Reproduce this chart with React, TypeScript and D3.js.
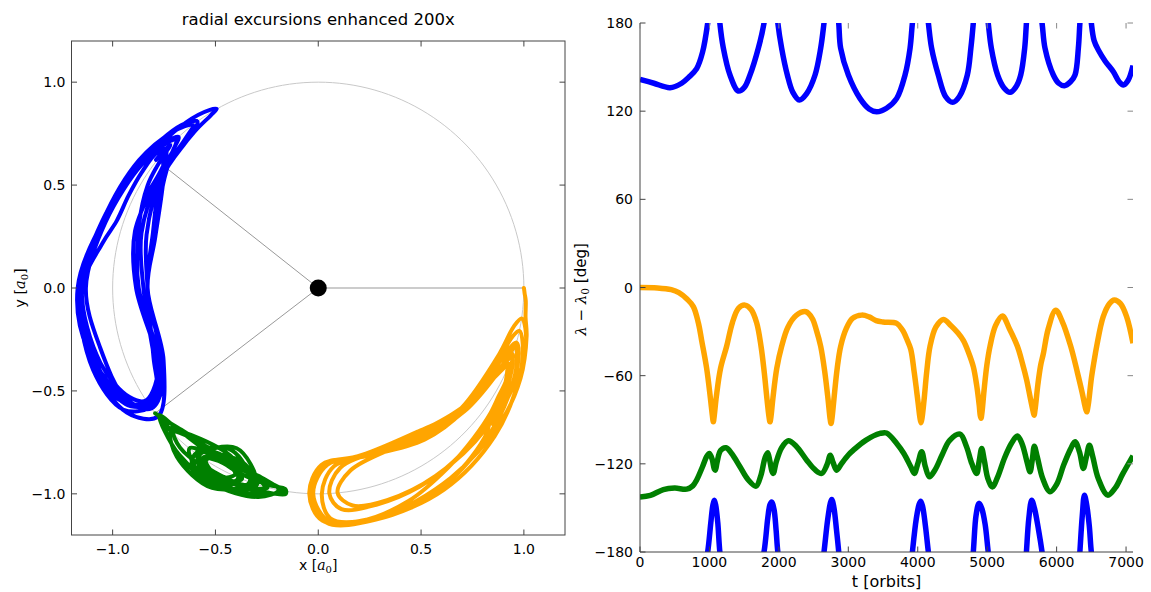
import React from "react";
import * as d3 from "d3";

// [time in orbits, λ − λ0 in degrees, orbital radius in a0 with excursions ×200]
const blueTrack: [number, number, number][] = [
  [0, 141.7, 1.005], [200, 139, 1.005], [432, 136, 1.0], [600, 139, 0.99], [700, 143, 0.982],
  [816, 149, 0.968], [900, 160, 0.926], [975, 180, 0.873], [1020, 200, 0.838], [1050, 212, 0.884],
  [1070, 215.3, 1.0], [1090, 212, 1.116], [1120, 200, 1.165], [1150, 180, 1.16], [1200, 163, 1.09],
  [1296, 144.6, 1.05], [1416, 133.7, 1.0], [1500, 136, 0.975], [1584, 144.6, 0.95], [1704, 162.8, 0.933],
  [1786, 180, 0.886], [1840, 203, 0.855], [1870, 212, 0.924], [1896, 214.1, 1.0], [1930, 209, 1.113],
  [1960, 195, 1.165], [1985, 180, 1.15], [2040, 162.8, 1.098], [2122, 144.6, 1.07], [2200, 133, 1.037],
  [2295, 127.6, 1.0], [2400, 132, 0.97], [2521, 144.6, 0.943], [2602, 162.8, 0.9], [2650, 180, 0.85],
  [2700, 201, 0.86], [2740, 213, 0.91], [2761, 215.8, 1.0], [2790, 211, 1.076], [2830, 195, 1.16],
  [2862, 180, 1.17], [2890, 162.8, 1.096], [3001, 144.6, 1.047], [3168, 128.7, 1.03], [3300, 121.5, 1.014],
  [3409, 119.6, 1.0], [3550, 122, 0.988], [3697, 128.7, 0.968], [3817, 144.6, 0.932], [3889, 162.8, 0.874],
  [3923, 180, 0.83], [3980, 203, 0.87], [4020, 212.5, 0.93], [4043, 214.6, 1.0], [4070, 211, 1.094],
  [4110, 198, 1.14], [4153, 180, 1.148], [4200, 162.8, 1.094], [4296, 144.6, 1.062], [4400, 130, 1.034],
  [4503, 126, 1.0], [4600, 130, 0.967], [4714, 144.6, 0.93], [4765, 162.8, 0.844], [4800, 180, 0.83],
  [4840, 205, 0.85], [4882, 213.1, 1.0], [4920, 210, 1.06], [4970, 199, 1.12], [5015, 180, 1.15],
  [5060, 162.8, 1.1], [5150, 144.6, 1.056], [5240, 136, 1.025], [5329, 132.8, 1.0], [5420, 137, 0.97],
  [5483, 144.6, 0.918], [5540, 162.8, 0.836], [5565, 180, 0.83], [5600, 203, 0.83], [5641, 215.3, 1.0],
  [5680, 210, 1.078], [5740, 195, 1.1], [5790, 180, 1.13], [5833, 162.8, 1.083], [5953, 144.6, 1.046],
  [6030, 139, 1.017], [6112, 137.3, 1.0], [6200, 140, 0.982], [6265, 144.6, 0.923], [6313, 162.8, 0.83],
  [6335, 180, 0.83], [6370, 205, 0.83], [6400, 218.7, 1.0], [6430, 213, 1.11], [6470, 198, 1.16],
  [6500, 180, 1.15], [6540, 168, 1.07], [6601, 161.6, 1.033], [6700, 154, 1.026], [6817, 146.8, 1.026],
  [6900, 140, 1.024], [6961, 137.8, 1.0], [7030, 141, 0.964], [7100, 151, 0.95],
];

const orangeTrack: [number, number, number][] = [
  [0, 0, 1.0], [250, -0.3, 1.001], [450, -1.5, 1.004], [560, -3.5, 1.011], [680, -8, 1.018],
  [768, -13, 1.04], [840, -24, 1.077], [888, -36, 1.1], [960, -55, 1.125], [1013, -75, 1.155],
  [1042, -87, 1.14], [1056, -91.4, 1.0], [1070, -87, 0.86], [1100, -74, 0.85], [1160, -55, 0.9],
  [1248, -40, 0.925], [1330, -24, 0.94], [1420, -14, 0.974], [1512, -12, 1.0], [1600, -15, 1.029],
  [1680, -24, 1.07], [1743, -40, 1.12], [1790, -58, 1.155], [1829, -76, 1.16], [1858, -88, 1.14],
  [1872, -91.4, 1.0], [1886, -88, 0.86], [1915, -75, 0.845], [1970, -55, 0.888], [2040, -40, 0.93],
  [2130, -27, 0.96], [2250, -19, 0.984], [2391, -16.5, 1.0], [2480, -21, 1.034], [2540, -29, 1.062],
  [2602, -40, 1.093], [2660, -57, 1.136], [2708, -76, 1.16], [2737, -89, 1.13], [2751, -92.5, 1.0],
  [2765, -89, 0.86], [2793, -76, 0.84], [2840, -55, 0.85], [2890, -40, 0.917], [2970, -28, 0.955],
  [3060, -21, 0.984], [3193, -18.8, 1.0], [3300, -20, 1.007], [3400, -22.5, 1.007], [3500, -23.5, 1.003],
  [3697, -24.4, 1.008], [3780, -29, 1.03], [3850, -36, 1.044], [3899, -42, 1.088], [3950, -58, 1.137],
  [4004, -78, 1.15], [4033, -89, 1.13], [4047, -92, 1.0], [4061, -89, 0.86], [4090, -77, 0.84],
  [4130, -57, 0.85], [4177, -40, 0.908], [4260, -27, 0.96], [4368, -21.7, 1.0], [4480, -26, 1.018],
  [4580, -31, 1.023], [4656, -36, 1.035], [4730, -44, 1.05], [4801, -54, 1.077], [4850, -67, 1.124],
  [4885, -80, 1.15], [4900, -87, 1.12], [4911, -89, 1.0], [4925, -85, 0.87], [4955, -70, 0.845],
  [4995, -53, 0.86], [5041, -40, 0.91], [5120, -26, 0.954], [5219, -19.4, 1.0], [5320, -28, 1.038],
  [5435, -40, 1.05], [5510, -52, 1.069], [5569, -63, 1.084], [5620, -75, 1.09], [5660, -84, 1.08],
  [5675, -86.9, 1.0], [5690, -83, 0.88], [5730, -66, 0.85], [5770, -53, 0.89], [5809, -45, 0.91],
  [5880, -28, 0.933], [5987, -15.4, 1.0], [6080, -23, 1.046], [6203, -40, 1.064], [6300, -58, 1.077],
  [6370, -72, 1.084], [6410, -81, 1.07], [6433, -84.6, 1.0], [6455, -80, 0.9], [6500, -62, 0.86],
  [6540, -50, 0.885], [6577, -40, 0.908], [6670, -20, 0.937], [6760, -11, 0.97], [6831, -8.5, 1.0],
  [6920, -11, 1.026], [7009, -20, 1.06], [7100, -38, 1.08],
];

const greenTrack: [number, number, number][] = [
  [0, -142.5, 1.0], [150, -141.5, 0.995], [336, -137.5, 0.994], [500, -136.5, 1.0], [672, -137.2, 0.997],
  [760, -135, 0.98], [816, -131, 0.958], [900, -122, 0.95], [960, -115, 0.96], [999, -112.9, 1.01],
  [1040, -117, 1.06], [1070, -123.5, 1.05], [1085, -124.3, 1.0], [1110, -119, 0.93], [1160, -111, 0.96],
  [1239, -109.1, 1.005], [1320, -113, 1.03], [1440, -122, 1.034], [1560, -131, 1.026], [1671, -135.2, 0.99],
  [1740, -128, 0.93], [1800, -116, 0.93], [1839, -112.5, 1.01], [1870, -118, 1.09], [1900, -125, 1.07],
  [1920, -126.5, 1.0], [1960, -119, 0.934], [2040, -109, 0.96], [2136, -104.3, 1.0], [2250, -108, 1.022],
  [2401, -117.5, 1.027], [2520, -124, 1.019], [2617, -126.5, 0.99], [2690, -121, 0.955], [2741, -114.1, 0.99],
  [2780, -119, 1.05], [2833, -124.3, 1.0], [2900, -120, 0.97], [3000, -114, 0.976], [3073, -110.7, 0.98],
  [3250, -104, 0.987], [3457, -99.3, 0.99], [3550, -99, 1.013], [3697, -106.1, 1.025], [3800, -113, 1.035],
  [3900, -122, 1.04], [3951, -126.5, 0.99], [4000, -120, 0.937], [4057, -111.8, 1.0], [4110, -122, 1.07],
  [4167, -128.8, 1.0], [4250, -124, 0.964], [4350, -114, 0.957], [4460, -104, 0.975], [4609, -99.8, 1.0],
  [4700, -108, 1.053], [4780, -120, 1.056], [4849, -126.5, 0.99], [4885, -118, 0.894], [4921, -109.5, 1.0],
  [4960, -118, 1.1], [5010, -130, 1.07], [5075, -135.7, 1.0], [5150, -129, 0.95], [5250, -116, 0.948],
  [5350, -106, 0.964], [5434, -101.1, 1.0], [5500, -106, 1.056], [5570, -118, 1.075], [5617, -125.4, 1.0],
  [5650, -117, 0.874], [5679, -108, 0.99], [5720, -115, 1.08], [5800, -130, 1.058], [5905, -139, 0.99],
  [6000, -134, 0.958], [6100, -121, 0.946], [6200, -110, 0.956], [6265, -105, 1.007], [6330, -112, 1.068],
  [6385, -123.1, 1.0], [6430, -115, 0.92], [6472, -107.3, 1.0], [6520, -115, 1.08], [6600, -130, 1.055],
  [6736, -141.3, 0.99], [6850, -136, 0.97], [6950, -127, 0.96], [7100, -114.5, 0.963],
];

const planets = [
  { name: "blue", color: "#0000ff", track: blueTrack },
  { name: "green", color: "#008000", track: greenTrack },
  { name: "orange", color: "#ffa500", track: orangeTrack },
];

const xyTicks = [-1, -0.5, 0, 0.5, 1];
const timeTicks = [0, 1000, 2000, 3000, 4000, 5000, 6000, 7000];
const angleTicks = [-180, -120, -60, 0, 60, 120, 180];

const FONT = "'DejaVu Sans', sans-serif";
const MATH = "'DejaVu Serif', serif";
const TICK = 5.5;
const SPINE = "#444";

const LP = { left: 71.5, right: 565, top: 41, bottom: 535 };
const RP = { left: 640, right: 1133, top: 23, bottom: 552 };

const minus = (s: string) => s.replace("-", "\u2212");

export default function App() {
  const xs = d3.scaleLinear().domain([-1.2, 1.2]).range([LP.left, LP.right]);
  const ys = d3.scaleLinear().domain([-1.2, 1.2]).range([LP.bottom, LP.top]);
  const ts = d3.scaleLinear().domain([0, 7100]).range([RP.left, RP.right]);
  const as = d3.scaleLinear().domain([-180, 180]).range([RP.bottom, RP.top]);
  const deg = Math.PI / 180;

  const orbitLine = d3
    .line<[number, number, number]>()
    .x((d) => xs(d[2] * Math.cos(d[1] * deg)))
    .y((d) => ys(d[2] * Math.sin(d[1] * deg)))
    .curve(d3.curveCatmullRom.alpha(0.5));

  // the blue track is stored unwrapped; drawing it again shifted by 360° wraps it through ±180
  const angleLine = (shift: number) =>
    d3
      .line<[number, number, number]>()
      .x((d) => ts(d[0]))
      .y((d) => as(d[1] - shift))
      .curve(d3.curveCatmullRom.alpha(0.5));

  const circle = d3.range(0, 361, 2).map((a) => [xs(Math.cos(a * deg)), ys(Math.sin(a * deg))] as [number, number]);
  const circlePath = d3.line()(circle) || "";

  return (
    <svg width={1151} height={592} style={{ display: "block", position: "absolute", left: 0, top: 0, background: "#fff" }}>
      <defs>
        <clipPath id="clipL">
          <rect x={LP.left} y={LP.top} width={LP.right - LP.left} height={LP.bottom - LP.top} />
        </clipPath>
        <clipPath id="clipR">
          <rect x={RP.left} y={RP.top} width={RP.right - RP.left} height={RP.bottom - RP.top} />
        </clipPath>
      </defs>

      {/* Left panel: orbits in the co-rotating frame */}
      <text x={(LP.left + LP.right) / 2} y={25} textAnchor="middle" fontFamily={FONT} fontSize={16.5} fill="#000">
        radial excursions enhanced 200x
      </text>
      <g clipPath="url(#clipL)">
        <path d={circlePath} fill="none" stroke="#c8c8c8" strokeWidth={1} />
        {planets.map((p) => (
          <line key={"r" + p.name} x1={xs(0)} y1={ys(0)} x2={xs(Math.cos(p.track[0][1] * deg))} y2={ys(Math.sin(p.track[0][1] * deg))} stroke="#999" strokeWidth={1} />
        ))}
        {planets.map((p) => (
          <path key={"o" + p.name} d={orbitLine(p.track) || ""} fill="none" stroke={p.color} strokeWidth={4} strokeLinejoin="round" strokeLinecap="round" />
        ))}
        <circle cx={xs(0)} cy={ys(0)} r={8.5} fill="#000" />
      </g>
      <rect x={LP.left} y={LP.top} width={LP.right - LP.left} height={LP.bottom - LP.top} fill="none" stroke={SPINE} strokeWidth={1} />
      {xyTicks.map((v) => (
        <g key={"xt" + v}>
          <line x1={xs(v)} x2={xs(v)} y1={LP.bottom} y2={LP.bottom - TICK} stroke={SPINE} />
          <line x1={xs(v)} x2={xs(v)} y1={LP.top} y2={LP.top + TICK} stroke={SPINE} />
          <text x={xs(v)} y={LP.bottom + 19} textAnchor="middle" fontFamily={FONT} fontSize={14} fill="#000">
            {minus(v.toFixed(1))}
          </text>
          <line y1={ys(v)} y2={ys(v)} x1={LP.left} x2={LP.left + TICK} stroke={SPINE} />
          <line y1={ys(v)} y2={ys(v)} x1={LP.right} x2={LP.right - TICK} stroke={SPINE} />
          <text x={LP.left - 6} y={ys(v) + 5} textAnchor="end" fontFamily={FONT} fontSize={14} fill="#000">
            {minus(v.toFixed(1))}
          </text>
        </g>
      ))}
      <text x={(LP.left + LP.right) / 2} y={570} textAnchor="middle" fontFamily={FONT} fontSize={14} fill="#000">
        x [<tspan fontFamily={MATH} fontStyle="italic">a</tspan>
        <tspan fontFamily={MATH} fontSize={10} dy={3}>0</tspan>
        <tspan dy={-3}>]</tspan>
      </text>
      <text transform={`translate(25,${(LP.top + LP.bottom) / 2}) rotate(-90)`} textAnchor="middle" fontFamily={FONT} fontSize={14.5} fill="#000">
        y [<tspan fontFamily={MATH} fontStyle="italic">a</tspan>
        <tspan fontFamily={MATH} fontSize={10} dy={3}>0</tspan>
        <tspan dy={-3}>]</tspan>
      </text>

      {/* Right panel: longitude offsets against time */}
      <g clipPath="url(#clipR)">
        {planets.map((p) => (
          <g key={"a" + p.name}>
            <path d={angleLine(0)(p.track) || ""} fill="none" stroke={p.color} strokeWidth={5.5} strokeLinejoin="round" />
            <path d={angleLine(360)(p.track) || ""} fill="none" stroke={p.color} strokeWidth={5.5} strokeLinejoin="round" />
          </g>
        ))}
      </g>
      <line x1={RP.left} x2={RP.left} y1={RP.top} y2={RP.bottom} stroke={SPINE} />
      <line x1={RP.left} x2={RP.right} y1={RP.bottom} y2={RP.bottom} stroke={SPINE} />
      {timeTicks.map((v) => (
        <g key={"tt" + v}>
          <line x1={ts(v)} x2={ts(v)} y1={RP.bottom} y2={RP.bottom - TICK} stroke={SPINE} />
          <line x1={ts(v)} x2={ts(v)} y1={RP.top} y2={RP.top + TICK} stroke="#888" />
          <text x={ts(v)} y={RP.bottom + 15} textAnchor="middle" fontFamily={FONT} fontSize={14} fill="#000">
            {v}
          </text>
        </g>
      ))}
      {angleTicks.map((v) => (
        <g key={"at" + v}>
          <line y1={as(v)} y2={as(v)} x1={RP.left} x2={RP.left + TICK} stroke={SPINE} />
          <line y1={as(v)} y2={as(v)} x1={RP.right} x2={RP.right - TICK} stroke="#888" />
          <text x={RP.left - 7} y={as(v) + 5} textAnchor="end" fontFamily={FONT} fontSize={14} fill="#000">
            {minus(String(v))}
          </text>
        </g>
      ))}
      <text x={(RP.left + RP.right) / 2} y={587} textAnchor="middle" fontFamily={FONT} fontSize={16} fill="#000">
        t [orbits]
      </text>
      <text transform={`translate(586,${(RP.top + RP.bottom) / 2 + 2}) rotate(-90)`} textAnchor="middle" fontFamily={FONT} fontSize={15} fill="#000">
        <tspan fontFamily={MATH} fontStyle="italic">λ</tspan>
        <tspan fontFamily={MATH}>{" \u2212 "}</tspan>
        <tspan fontFamily={MATH} fontStyle="italic">λ</tspan>
        <tspan fontFamily={MATH} fontSize={10.5} dy={3}>0</tspan>
        <tspan dy={-3}>{" [deg]"}</tspan>
      </text>
    </svg>
  );
}
